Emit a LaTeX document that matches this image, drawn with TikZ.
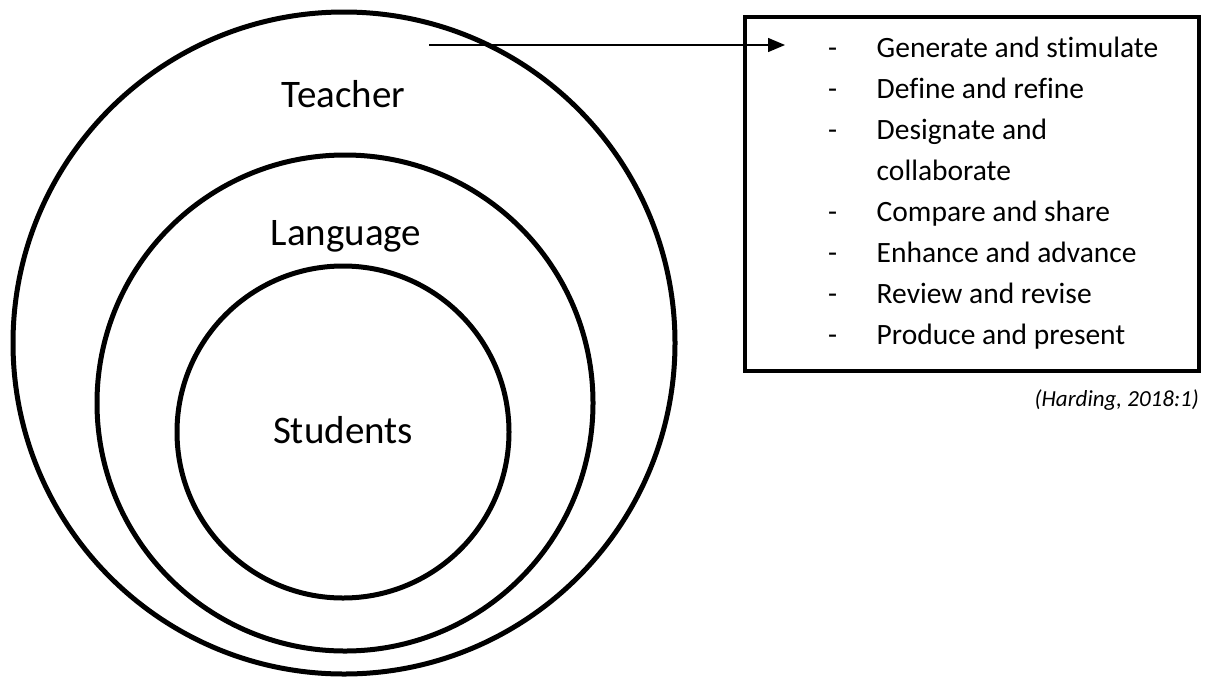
\documentclass[tikz,border=0pt]{standalone}
\usepackage{fontspec}
\setmainfont{Carlito}[Ligatures=NoCommon]
\usetikzlibrary{positioning,arrows.meta}
\definecolor{fondo}{HTML}{FFFFFF}
\definecolor{tinta}{HTML}{000000}

\begin{document}
\begin{tikzpicture}[x=1pt, y=-1pt, every node/.style={text=tinta},
  anillo/.style={draw=tinta, circle, line width=5pt, inner sep=0pt},
  rotulo/.style={font=\fontsize{39}{47}\selectfont, anchor=base, inner sep=0pt},
  punto/.style={font=\fontsize{29.5}{35}\selectfont, anchor=base west, inner sep=0pt}]
\useasboundingbox (0,0) rectangle (1206,678);
\fill[fondo] (0,0) rectangle (1206,678);

% ================= circulos concentricos =================
\node[anillo, minimum size=662pt] (prof) at (344,343) {};
\node[anillo, minimum size=496pt] (leng) at (345,403) {};
\node[anillo, minimum size=332pt] (alum) at (343,432) {};

\node[rotulo] (tprof) at (343.5,107) {Teacher};
\node[rotulo] (tleng) at (346,245) {Language};
\node[rotulo] (talum) at (343,443) {Students};

% ================= recuadro de acciones =================
\node[draw=tinta, line width=4.5pt, minimum width=454pt, minimum height=354pt] (caja) at (972,194) {};

% guiones
\node[punto] (g1) at (828,57) {-};
\node[punto] (g2) at (828,98) {-};
\node[punto] (g3) at (828,139) {-};
\node[punto] (g5) at (828,221) {-};
\node[punto] (g6) at (828,262) {-};
\node[punto] (g7) at (828,303) {-};
\node[punto] (g8) at (828,344) {-};
% textos
\node[punto] (a1) at (876.5,57) {Generate and stimulate};
\node[punto] (a2) at (876.5,98) {Define and refine};
\node[punto] (a3) at (876.5,139) {Designate and};
\node[punto] (a4) at (876.5,180) {collaborate};
\node[punto] (a5) at (876.5,221) {Compare and share};
\node[punto] (a6) at (876.5,262) {Enhance and advance};
\node[punto] (a7) at (876.5,303) {Review and revise};
\node[punto] (a8) at (876.5,344) {Produce and present};

% flecha del anillo exterior al recuadro
\coordinate (sal) at (429,45);
\coordinate (lleg) at (785,45);
\draw[tinta, line width=1.3pt, -{Triangle[length=17pt,width=14pt]}] (sal) -- (lleg);

% fuente
\node[font=\fontsize{23}{27}\selectfont\itshape, anchor=base east, inner sep=0pt] (cita) at (1199,406) {(Harding, 2018:1)};
\end{tikzpicture}
\end{document}
